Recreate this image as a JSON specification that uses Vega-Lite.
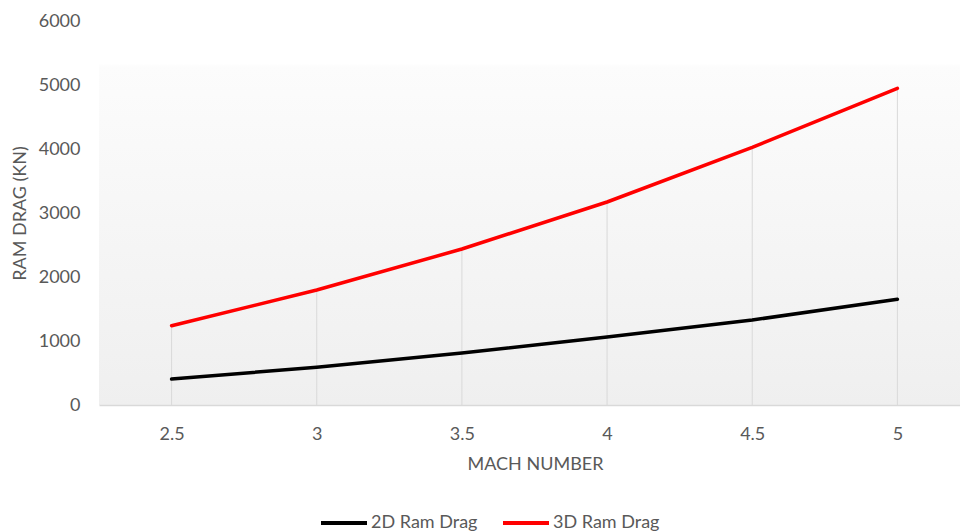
{
  "$schema": "https://vega.github.io/schema/vega-lite/v6.json",
  "width": 861,
  "height": 384,
  "autosize": {"type": "none"},
  "padding": {"left": 99, "top": 21, "right": 0, "bottom": 127},
  "background": "white",
  "view": {
    "stroke": null,
    "fill": {"gradient": "linear", "x1": 0, "y1": 0, "x2": 0, "y2": 1,
      "stops": [{"offset": 0, "color": "#ffffff"}, {"offset": 0.11, "color": "#ffffff"}, {"offset": 0.12, "color": "#fcfcfc"}, {"offset": 1, "color": "#efefef"}]}
  },
  "config": {"font": "Lato"},
  "data": {
    "values": [
      {"mach": 2.5, "2D Ram Drag": 406, "3D Ram Drag": 1239},
      {"mach": 3.0, "2D Ram Drag": 589, "3D Ram Drag": 1797},
      {"mach": 3.5, "2D Ram Drag": 812, "3D Ram Drag": 2437},
      {"mach": 4.0, "2D Ram Drag": 1062, "3D Ram Drag": 3172},
      {"mach": 4.5, "2D Ram Drag": 1328, "3D Ram Drag": 4026},
      {"mach": 5.0, "2D Ram Drag": 1651, "3D Ram Drag": 4948}
    ]
  },
  "encoding": {
    "x": {
      "field": "mach", "type": "quantitative",
      "scale": {"domain": [2.25, 5.2156], "nice": false, "zero": false},
      "axis": {
        "values": [2.5, 3, 3.5, 4, 4.5, 5], "format": "~g",
        "domain": true, "domainColor": "#d9d9d9", "domainWidth": 1.5,
        "ticks": false, "grid": false,
        "labelPadding": 20, "labelFontSize": 18, "labelColor": "#595959",
        "title": "MACH NUMBER", "titleFontSize": 18, "titleFontWeight": "normal",
        "titleColor": "#595959", "titleX": 436, "titlePadding": 12
      }
    }
  },
  "layer": [
    {
      "mark": {"type": "rule", "color": "#d9d9d9", "strokeWidth": 1},
      "encoding": {
        "y": {"field": "3D Ram Drag", "type": "quantitative",
          "scale": {"domain": [0, 6000], "nice": false},
          "axis": {"values": [0, 1000, 2000, 3000, 4000, 5000, 6000], "format": "d", "domain": false, "ticks": false, "grid": false,
            "labelPadding": 19, "labelFontSize": 18, "labelColor": "#595959",
            "title": "RAM DRAG (KN)", "titleFontSize": 18, "titleFontWeight": "normal", "titleColor": "#595959",
            "titleX": -79, "titleBaseline": "middle"}},
        "y2": {"datum": 0}
      }
    },
    {
      "transform": [{"fold": ["2D Ram Drag", "3D Ram Drag"], "as": ["series", "value"]}],
      "mark": {"type": "line", "strokeWidth": 3.5, "strokeCap": "round", "strokeJoin": "round"},
      "encoding": {
        "y": {"field": "value", "type": "quantitative",
          "scale": {"domain": [0, 6000], "nice": false},
          "axis": {"values": [0, 1000, 2000, 3000, 4000, 5000, 6000], "format": "d", "domain": false, "ticks": false, "grid": false,
            "labelPadding": 19, "labelFontSize": 18, "labelColor": "#595959",
            "title": "RAM DRAG (KN)", "titleFontSize": 18, "titleFontWeight": "normal", "titleColor": "#595959",
            "titleX": -79, "titleBaseline": "middle"}},
        "color": {
          "field": "series", "type": "nominal",
          "scale": {"domain": ["2D Ram Drag", "3D Ram Drag"], "range": ["#000000", "#ff0000"]},
          "legend": {
            "orient": "none", "legendX": 220, "legendY": 477, "direction": "horizontal",
            "title": null, "symbolType": "stroke", "symbolSize": 2116, "symbolStrokeWidth": 4,
            "labelFontSize": 18, "labelColor": "#595959", "labelOffset": 2, "columnPadding": 17
          }
        }
      }
    }
  ]
}
